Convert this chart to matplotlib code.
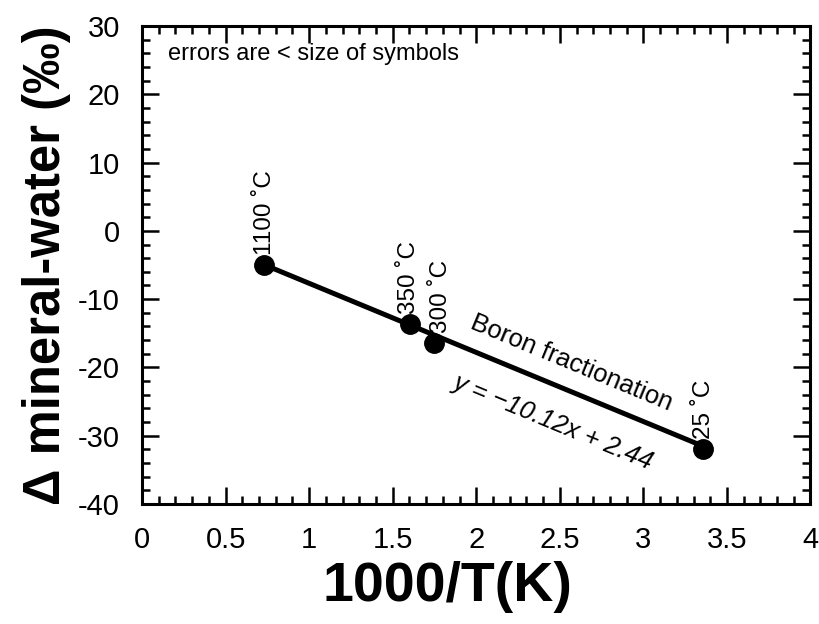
import numpy as np
import matplotlib
matplotlib.use('Agg')
import matplotlib.pyplot as plt
from matplotlib.ticker import MultipleLocator

plt.rcParams['font.family'] = ['Liberation Sans', 'DejaVu Sans']
plt.rcParams['axes.unicode_minus'] = False

# data
temp_labels = ['1100 \u02daC', '350 \u02daC', '300 \u02daC', '25 \u02daC']
inv_T = [0.728, 1.605, 1.745, 3.356]          # 1000/T(K)
delta = [-5.0, -13.6, -16.4, -31.9]           # permil
label_dx = [1, -1, 5, 1]                      # small offsets of the labels (points)

slope = -10.12
intercept = 2.44

fig = plt.figure(figsize=(8.19, 6.24), dpi=100)
ax = fig.add_axes([0.1734, 0.1923, 0.8162, 0.7660])

xl = np.array([inv_T[0], inv_T[-1]])
ax.plot(xl, slope * xl + intercept, color='k', linewidth=3.6, zorder=2)
ax.plot(inv_T, delta, 'o', color='k', markersize=14, zorder=3)

for x, y, lab, dx in zip(inv_T, delta, temp_labels, label_dx):
    ax.annotate(lab, xy=(x, y), xytext=(dx, 7), textcoords='offset points',
                rotation=90, ha='center', va='bottom', fontsize=17.5)

ax.text(2.57, -19.3, 'Boron fractionation', rotation=-22.5, fontsize=18.5,
        ha='center', va='center', rotation_mode='anchor')
ax.text(2.46, -28.0, 'y = \u221210.12x + 2.44', rotation=-22.5, fontsize=18.5,
        ha='center', va='center', rotation_mode='anchor', style='italic')
ax.text(0.155, 25.9, 'errors are < size of symbols', fontsize=17,
        ha='left', va='center')

ax.set_xlim(0, 4)
ax.set_ylim(-40, 30)
ax.xaxis.set_major_locator(MultipleLocator(0.5))
ax.xaxis.set_minor_locator(MultipleLocator(0.1))
ax.yaxis.set_major_locator(MultipleLocator(10))
ax.yaxis.set_minor_locator(MultipleLocator(2))
ax.set_xticks([0, 0.5, 1, 1.5, 2, 2.5, 3, 3.5, 4])
ax.set_xticklabels(['0', '0.5', '1', '1.5', '2', '2.5', '3', '3.5', '4'])

ax.tick_params(which='both', direction='in', top=True, right=True,
               labelsize=21, width=1.8)
ax.tick_params(which='major', length=12, pad=16)
ax.tick_params(which='minor', length=6)
for sp in ax.spines.values():
    sp.set_linewidth(2.2)

ax.set_xlabel('1000/T(K)', fontsize=40, fontweight='bold', labelpad=8)
ax.xaxis.set_label_coords(0.457, -0.12, transform=ax.transAxes)
ax.xaxis.label.set_va('top')
ax.set_ylabel('\u0394 mineral-water (\u2030)', fontsize=36.5, fontweight='bold',
              labelpad=5)

fig.savefig('out.png', dpi=100)
